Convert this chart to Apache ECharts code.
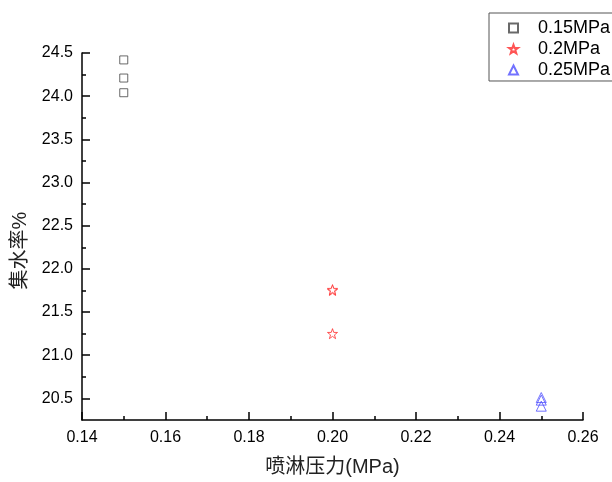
<!DOCTYPE html>
<html>
<head>
<meta charset="utf-8">
<script src="https://cdn.jsdelivr.net/npm/echarts@6/dist/echarts.min.js"></script>
<style>html,body{margin:0;padding:0;background:#fff;overflow:hidden}#c{width:612px;height:482px}</style>
</head>
<body>
<div id="c"></div>
<script>
var seriesNames = ['0.15MPa', '0.2MPa', '0.25MPa'];
var s015 = [[0.15, 24.42], [0.15, 24.21], [0.15, 24.04]];
var s02 = [[0.20, 21.75], [0.20, 21.76], [0.20, 21.25]];
var s025 = [[0.25, 20.51], [0.25, 20.48], [0.25, 20.41]];
var yMajorTicks = [20.5, 21.0, 21.5, 22.0, 22.5, 23.0, 23.5, 24.0, 24.5];
var yMinorTicks = [20.75, 21.25, 21.75, 22.25, 22.75, 23.25, 23.75, 24.25];
var xTitle = '喷淋压力(MPa)';
var yTitle = '集水率%';

var FONT = '"Liberation Sans", Arial, "Noto Sans CJK SC", sans-serif';
var starPath = 'path://M0,-10 L2.35,-3.24 L9.51,-3.09 L3.8,1.24 L5.88,8.09 L0,4 L-5.88,8.09 L-3.8,1.24 L-9.51,-3.09 L-2.35,-3.24 Z';

var chart = echarts.init(document.getElementById('c'), null, {renderer: 'canvas'});
var axisLineStyle = {color: '#000', width: 1.5};
chart.setOption({
  backgroundColor: '#fff',
  animation: false,
  grid: {left: 82, right: 29, top: 53, bottom: 59, containLabel: false},
  legend: {
    orient: 'vertical',
    left: 489, top: 13,
    padding: [6, 4, 2, 19],
    itemWidth: 9, itemHeight: 9, itemGap: 3,
    borderColor: '#555', borderWidth: 1,
    textStyle: {fontSize: 18, fontFamily: FONT, color: '#000', padding: [0, 0, 0, 15]},
    data: seriesNames
  },
  xAxis: {
    type: 'value', min: 0.14, max: 0.26, interval: 0.02,
    name: xTitle, nameLocation: 'middle', nameGap: 37,
    nameTextStyle: {fontSize: 20, fontFamily: FONT, color: '#222'},
    axisLine: {show: true, lineStyle: axisLineStyle},
    axisTick: {show: true, inside: true, length: 8, lineStyle: {color: '#000', width: 1.5}},
    minorTick: {show: true, splitNumber: 2, length: 4, lineStyle: {color: '#000', width: 1.5}},
    axisLabel: {fontSize: 16, fontFamily: FONT, color: '#000', margin: 10,
      formatter: function (v) { return v.toFixed(2); }},
    splitLine: {show: false}
  },
  yAxis: [{
    type: 'value', min: 20.25, max: 24.5,
    name: yTitle, nameLocation: 'middle', nameGap: 45,
    nameTextStyle: {fontSize: 20, fontFamily: FONT, color: '#222', padding: [0, 28, 0, 0]},
    axisLine: {show: true, lineStyle: axisLineStyle},
    axisTick: {show: true, inside: true, length: 8, customValues: yMajorTicks, lineStyle: {color: '#000', width: 1.5}},
    axisLabel: {fontSize: 16, fontFamily: FONT, color: '#000', margin: 9, customValues: yMajorTicks,
      formatter: function (v) { return v.toFixed(1); }},
    splitLine: {show: false}
  }, {
    type: 'value', min: 20.25, max: 24.5, position: 'left', offset: 0,
    axisLine: {show: false},
    axisTick: {show: true, inside: true, length: 4, customValues: yMinorTicks, lineStyle: {color: '#000', width: 1.5}},
    axisLabel: {show: false},
    splitLine: {show: false}
  }],
  series: [{
    name: seriesNames[0], type: 'scatter', data: s015, symbol: 'rect', symbolSize: 8,
    itemStyle: {color: '#fff', borderColor: '#444', borderWidth: 1}
  }, {
    name: seriesNames[1], type: 'scatter', data: s02, symbol: starPath, symbolSize: 10,
    itemStyle: {color: '#fff', borderColor: '#ff2a2a', borderWidth: 1}
  }, {
    name: seriesNames[2], type: 'scatter', data: s025, symbol: 'triangle', symbolSize: 10,
    itemStyle: {color: 'rgba(255,255,255,0)', borderColor: '#4f4fff', borderWidth: 1}
  }]
});
</script>
</body>
</html>
